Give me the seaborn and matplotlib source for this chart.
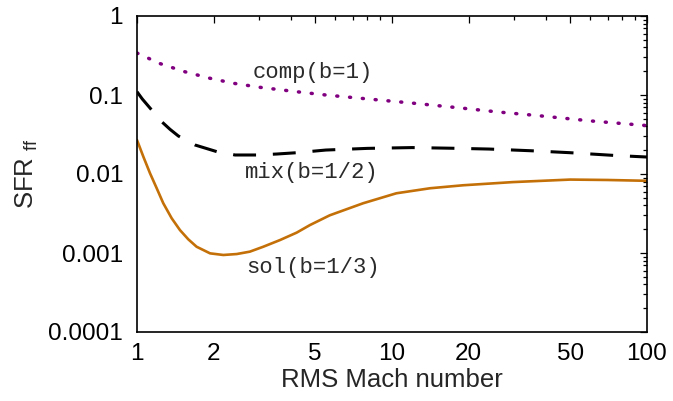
import numpy as np
import pandas as pd
import matplotlib
matplotlib.use("Agg")
import matplotlib.pyplot as plt
import seaborn as sns
from matplotlib.ticker import LogLocator, FixedLocator, FixedFormatter, NullFormatter

# ---- data ----
mach_comp = [1, 1.23, 1.54, 1.93, 2.38, 3.04, 4.23, 5.5, 7.5, 12, 19, 26, 37, 60, 100]
sfr_comp = [0.34, 0.25, 0.197, 0.163, 0.141, 0.125, 0.110, 0.100, 0.091, 0.079,
            0.068, 0.061, 0.055, 0.047, 0.041]

mach_mix = [1, 1.049, 1.107, 1.25, 1.347, 1.452, 1.688, 2.054, 2.424, 2.947, 3.53,
            4.23, 5.5, 8, 12, 17, 24, 35, 50, 74, 100]
sfr_mix = [0.110, 0.089, 0.0726, 0.0459, 0.0368, 0.0303, 0.0233, 0.0192, 0.0174,
           0.0174, 0.0179, 0.0186, 0.0201, 0.0211, 0.0216, 0.0212, 0.0207, 0.0197,
           0.0186, 0.0172, 0.0164]

mach_sol = [1, 1.059, 1.125, 1.195, 1.268, 1.368, 1.474, 1.589, 1.713, 1.934, 2.18,
            2.46, 2.77, 3.127, 3.64, 4.227, 4.77, 5.7, 7.7, 10.4, 14.1, 19, 29.8,
            50, 70, 100]
sfr_sol = [0.0269, 0.01656, 0.0102, 0.00659, 0.00426, 0.00275, 0.00195, 0.00149,
           0.00120, 0.00099, 0.000944, 0.00097, 0.00104, 0.00120, 0.00146, 0.00181,
           0.00226, 0.0030, 0.00426, 0.0057, 0.0066, 0.0072, 0.0079, 0.0085, 0.0084,
           0.0082]

labels = ["comp(b=1)", "mix(b=1/2)", "sol(b=1/3)"]
label_pos_mach = [2.85, 2.65, 2.67]
label_pos_sfr = [0.195, 0.0106, 0.000646]

x_ticks = [1, 2, 5, 10, 20, 50, 100]
x_ticklabels = ["1", "2", "5", "10", "20", "50", "100"]
y_ticks = [0.0001, 0.001, 0.01, 0.1, 1]
y_ticklabels = ["0.0001", "0.001", "0.01", "0.1", "1"]

# ---- style ----
sns.set_style("white")
plt.rcParams['font.family'] = ['Liberation Sans', 'DejaVu Sans']
plt.rcParams['mathtext.fontset'] = 'custom'
plt.rcParams['mathtext.rm'] = 'Liberation Sans'

fig = plt.figure(figsize=(6.73, 4.01), dpi=100)
ax = fig.add_axes([137 / 673, 1 - 332 / 401, (647 - 137) / 673, (332 - 16) / 401])

df_comp = pd.DataFrame({"M": mach_comp, "SFR": sfr_comp})
df_mix = pd.DataFrame({"M": mach_mix, "SFR": sfr_mix})
df_sol = pd.DataFrame({"M": mach_sol, "SFR": sfr_sol})

sns.lineplot(data=df_comp, x="M", y="SFR", ax=ax, sort=False, estimator=None,
             color="#800080", linewidth=2.5)
ax.lines[-1].set_dashes((0.3, 3.4))
ax.lines[-1].set_dash_capstyle("round")

sns.lineplot(data=df_mix, x="M", y="SFR", ax=ax, sort=False, estimator=None,
             color="black", linewidth=2.2)
ax.lines[-1].set_dashes((7.5, 5.5))
ax.lines[-1].set_solid_joinstyle("round")

sns.lineplot(data=df_sol, x="M", y="SFR", ax=ax, sort=False, estimator=None,
             color="#c47008", linewidth=1.9)
ax.lines[-1].set_solid_joinstyle("round")

ax.set_xscale("log")
ax.set_yscale("log")
ax.set_xlim(1, 100)
ax.set_ylim(1e-4, 1)

for lab, mx, my in zip(labels, label_pos_mach, label_pos_sfr):
    ax.text(mx, my, lab, family=["Liberation Mono", "DejaVu Sans Mono"], fontsize=16,
            color="#2a2a2a", ha="left", va="center")

ax.xaxis.set_major_locator(FixedLocator(x_ticks))
ax.xaxis.set_major_formatter(FixedFormatter(x_ticklabels))
ax.xaxis.set_minor_locator(LogLocator(base=10, subs=(3, 4, 6, 7, 8, 9)))
ax.xaxis.set_minor_formatter(NullFormatter())
ax.yaxis.set_major_locator(FixedLocator(y_ticks))
ax.yaxis.set_major_formatter(FixedFormatter(y_ticklabels))
ax.yaxis.set_minor_locator(LogLocator(base=10, subs=np.arange(2, 10)))
ax.yaxis.set_minor_formatter(NullFormatter())

ax.tick_params(which="both", direction="in", top=True, right=True, colors="black",
               labelsize=17.5, width=0.9)
ax.tick_params(which="major", length=5)
ax.tick_params(which="minor", length=3)
ax.tick_params(axis="x", which="major", pad=8)
ax.tick_params(axis="y", which="major", pad=10)

for s in ax.spines.values():
    s.set_visible(True)
    s.set_color("black")
    s.set_linewidth(1.2)

ax.set_xlabel("RMS Mach number", fontsize=18.5, labelpad=2)
ax.set_ylabel(r"SFR $_{\mathregular{ff}}$", fontsize=18.5, labelpad=6)

fig.savefig("out.png", dpi=100)
